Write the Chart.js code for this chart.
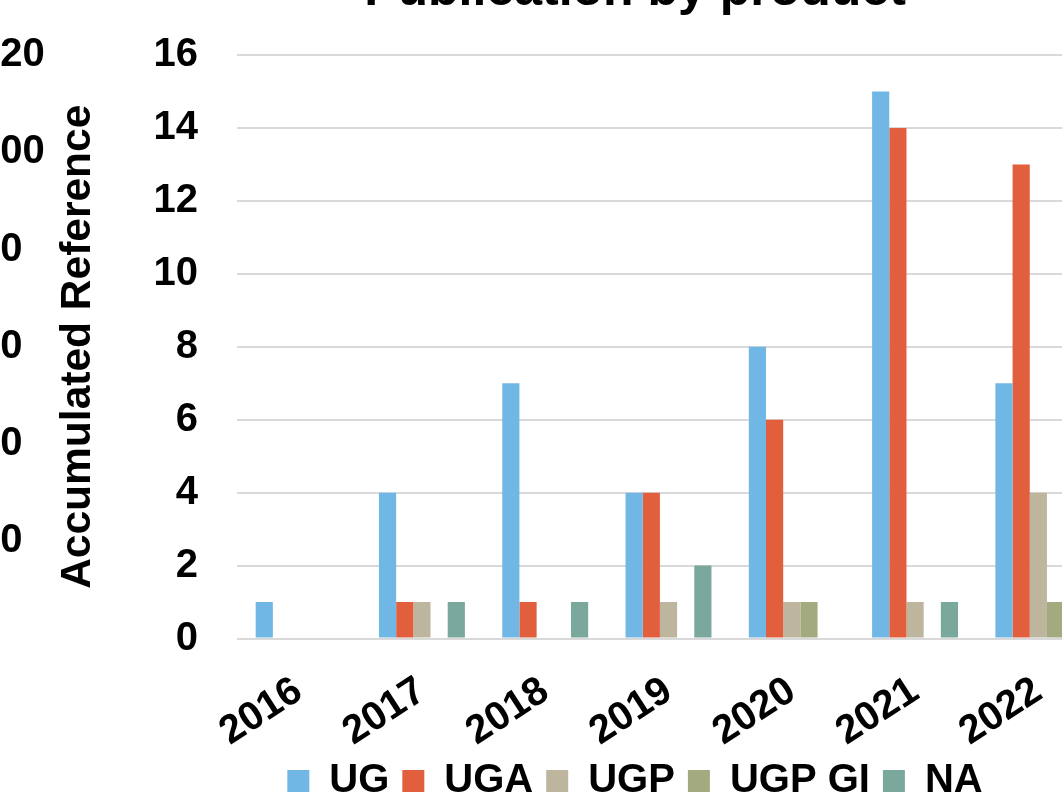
<!DOCTYPE html>
<html>
<head>
<meta charset="utf-8">
<script src="https://cdn.jsdelivr.net/npm/chart.js@4"></script>
<style>
  html, body { margin: 0; padding: 0; background: #ffffff; overflow: hidden; width: 1062px; height: 803px; }
  #wrap { position: relative; width: 1062px; height: 803px; overflow: hidden; }
  #c { position: absolute; left: -30px; top: -60px; }
</style>
</head>
<body>
<div id="wrap"><canvas id="c" width="1322" height="871"></canvas></div>
<script>
const years = ['2016', '2017', '2018', '2019', '2020', '2021', '2022'];
const seriesNames = ['UG', 'UGA', 'UGP', 'UGP GI', 'NA'];
const ug    = [1, 4, 7, 4, 8, 15, 7];
const uga   = [0, 1, 1, 4, 6, 14, 13];
const ugp   = [0, 1, 0, 1, 1, 1, 4];
const ugpGi = [0, 0, 0, 0, 1, 0, 1];
const na    = [0, 1, 1, 2, 0, 1, 0];
const countTicks = [0, 2, 4, 6, 8, 10, 12, 14, 16];
const accumulatedTicks = [0, 20, 40, 60, 80, 100, 120];
const chartTitle = 'Publication by product';
const leftAxisTitle = 'Accumulated Reference';

const colors = ['#71B7E5', '#E15F3C', '#BEB59E', '#A3AA80', '#7BA89C'];
const values = [ug, uga, ugp, ugpGi, na];
const FONT = "'Liberation Sans', Arial, sans-serif";

new Chart(document.getElementById('c'), {
  type: 'bar',
  data: {
    labels: years,
    datasets: seriesNames.map((n, i) => ({
      label: n,
      data: values[i],
      backgroundColor: colors[i],
      borderWidth: 0,
      yAxisID: 'y',
      categoryPercentage: 0.697,
      barPercentage: 1.0
    }))
  },
  options: {
    responsive: false,
    animation: false,
    devicePixelRatio: 1,
    layout: { padding: { left: 8, right: 0, top: 0, bottom: 0 } },
    plugins: {
      tooltip: { enabled: false },
      title: {
        display: true,
        text: chartTitle,
        color: '#000',
        font: { family: FONT, size: 50, weight: 'bold', lineHeight: 1.2 },
        padding: { top: 21.5, bottom: 33.5 }
      },
      legend: {
        position: 'bottom',
        labels: {
          color: '#000',
          font: { family: FONT, size: 40, weight: 'bold' },
          boxWidth: 22,
          boxHeight: 22,
          padding: 13
        }
      }
    },
    scales: {
      x: {
        grid: { display: false },
        border: { display: false },
        ticks: {
          color: '#000',
          font: { family: FONT, size: 40, weight: 'bold' },
          minRotation: 33,
          maxRotation: 33,
          padding: 21
        },
        afterFit: s => { s.height = 109.5; }
      },
      y: {
        position: 'left',
        weight: 0,
        min: 0,
        max: 16,
        afterBuildTicks: s => { s.ticks = countTicks.map(v => ({ value: v })); },
        grid: { color: '#d9d9d9', lineWidth: 2, drawTicks: false },
        border: { display: false },
        ticks: {
          color: '#000',
          font: { family: FONT, size: 40, weight: 'bold' },
          padding: 39
        },
        title: {
          display: true,
          text: leftAxisTitle,
          color: '#000',
          font: { family: FONT, size: 42.5, weight: 'bold', lineHeight: 1.1 },
          padding: 0
        },
        afterFit: s => { s.width = 182; }
      },
      y2: {
        position: 'left',
        weight: 10,
        min: 0,
        max: 120,
        afterBuildTicks: s => { s.ticks = accumulatedTicks.map(v => ({ value: v })); },
        grid: { display: false, drawTicks: false },
        border: { display: false },
        ticks: {
          color: '#000',
          font: { family: FONT, size: 40, weight: 'bold' },
          crossAlign: 'far',
          padding: 0
        },
        afterFit: s => { s.width = 77; }
      },
      yR: {
        position: 'right',
        min: 0,
        max: 1,
        grid: { display: false, drawTicks: false },
        border: { display: false },
        ticks: { display: false },
        afterFit: s => { s.width = 192; }
      }
    }
  }
});
</script>
</body>
</html>
